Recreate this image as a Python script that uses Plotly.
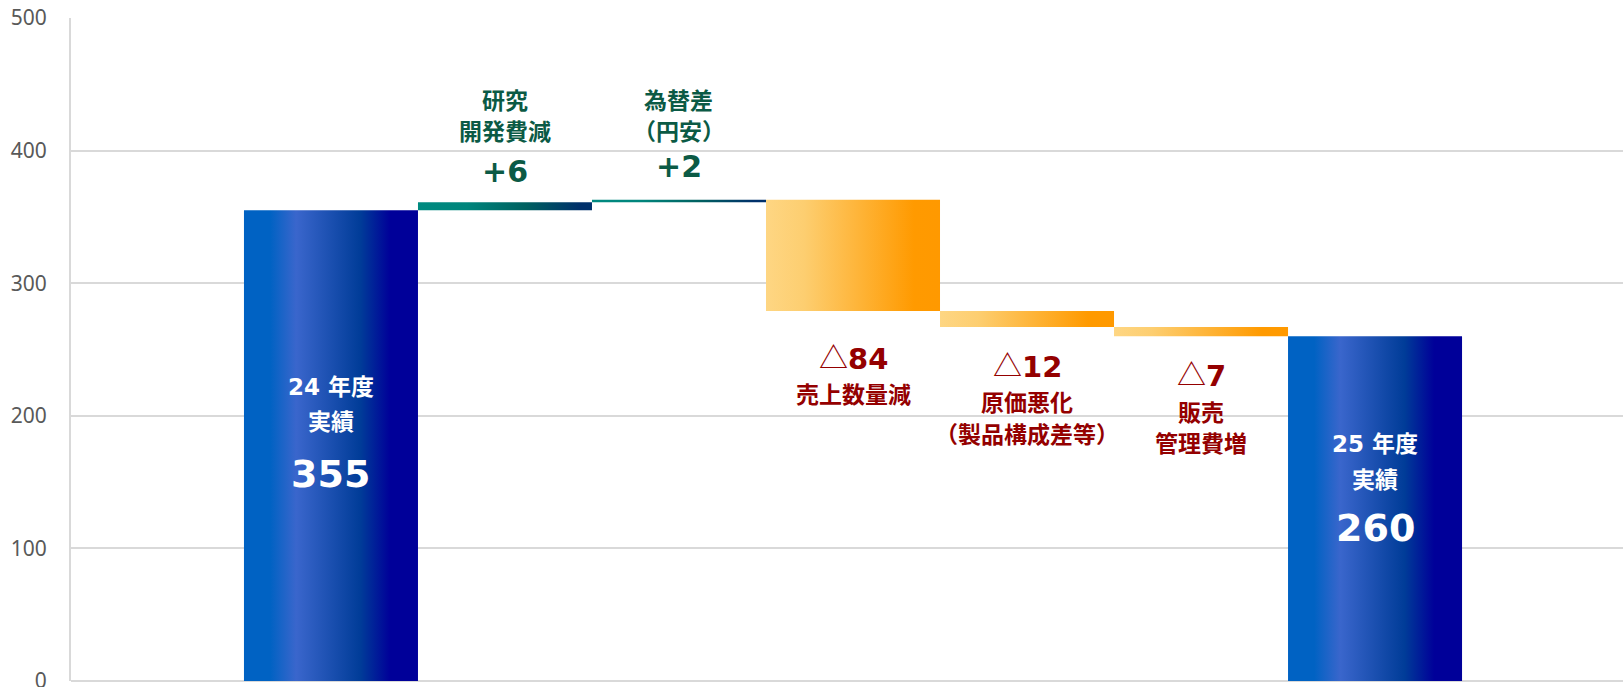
import plotly.graph_objects as go

# ---- data ----
categories = ["24年度実績", "研究開発費減", "為替差（円安）", "売上数量減",
              "原価悪化（製品構成差等）", "販売管理費増", "25年度実績"]
start_value = 355
deltas = [6, 2, -84, -12, -7]
end_value = 260
y_ticks = [0, 100, 200, 300, 400, 500]

total_titles = [["24 年度", "実績"], ["25 年度", "実績"]]
delta_titles = [["研究", "開発費減"], ["為替差", "（円安）"], ["売上数量減"],
                ["原価悪化", "（製品構成差等）"], ["販売", "管理費増"]]

# ---- derived bar extents ----
bases, tops = [0], [start_value]
running = start_value
for d in deltas:
    bases.append(min(running, running + d))
    tops.append(max(running, running + d))
    running += d
bases.append(0)
tops.append(end_value)

BLUE = [[0, '#0062C3'], [0.15, '#0062C3'], [0.30, '#3A66CC'], [0.67, '#003C98'],
        [0.84, '#000099'], [1, '#000099']]
TEAL = [[0, '#008A80'], [0.28, '#00857C'], [0.62, '#006060'], [0.93, '#00306A'], [1, '#00306A']]
ORANGE = [[0, '#FED683'], [0.22, '#FDCE70'], [0.85, '#FF9A00'], [1, '#FF9900']]

GREEN = '#0B5A45'
RED = '#940000'
FONT = "DejaVu Sans, Noto Sans CJK JP"
CJK = "Noto Sans CJK JP"

fig = go.Figure()
W = 1.0
for i, cat in enumerate(categories):
    if i == 0 or i == len(categories) - 1:
        cs = BLUE
    elif deltas[i - 1] > 0:
        cs = TEAL
    else:
        cs = ORANGE
    x0, x1 = i - W / 2, i + W / 2
    fig.add_trace(go.Scatter(
        x=[x0, x1, x1, x0, x0], y=[bases[i], bases[i], tops[i], tops[i], bases[i]],
        mode='none', fill='toself',
        fillgradient=dict(type='horizontal', colorscale=cs),
        fillcolor=cs[0][1], name=cat, hoverinfo='skip', showlegend=False))

ann = []

def add(x, y, text, shift, size, color, family=FONT):
    ann.append(dict(x=x, y=y, xref='x', yref='y', text=text, showarrow=False,
                    yshift=shift, yanchor='middle', xanchor='center',
                    font=dict(family=family, size=size, color=color, weight='bold')))

# totals (white text inside blue bars)
total_values = [start_value, end_value]
total_idx = [0, len(categories) - 1]
total_offsets = [[177, 210, 264], [108, 142, 192]]
for k, i in enumerate(total_idx):
    off = total_offsets[k]
    add(i, tops[i], total_titles[k][0], -off[0], 23, 'white')
    add(i, tops[i], total_titles[k][1], -off[1], 23, 'white', CJK)
    add(i, tops[i], str(total_values[k]), -off[2], 38, 'white')

# deltas
up_offsets = [[31, 72, 103], [33, 70, 101]]
down_offsets = [[45, 82], [37, 74, 106], [37, 75, 106]]
ui = di = 0
for j, d in enumerate(deltas):
    i = j + 1
    if d > 0:
        off = up_offsets[ui]; ui += 1
        add(i, tops[i], f"+{d}", off[0], 30, GREEN)
        t = delta_titles[j]
        add(i, tops[i], t[-1], off[1], 23, GREEN, CJK)
        if len(t) > 1:
            add(i, tops[i], t[0], off[2], 23, GREEN, CJK)
    else:
        off = down_offsets[di]; di += 1
        ann.append(dict(x=i, y=bases[i], xref='x', yref='y',
                        text=(f"<span style='font-family:Noto Sans CJK JP;font-weight:normal'>△</span>"
                              f"{abs(d)}"),
                        showarrow=False, yshift=-off[0], yanchor='middle', xanchor='center',
                        font=dict(family=FONT, size=29, color=RED, weight='bold')))
        for n, line in enumerate(delta_titles[j]):
            add(i, bases[i], line, -off[n + 1], 23, RED, CJK)

fig.update_layout(
    width=1623, height=687,
    margin=dict(l=71, r=0, t=18, b=6),
    paper_bgcolor='white', plot_bgcolor='white',
    annotations=ann,
    xaxis=dict(range=[-1.494, 7.425], showgrid=False, zeroline=False,
               showticklabels=False, showline=False, fixedrange=True),
    yaxis=dict(range=[0, 500], tickvals=y_ticks, showgrid=True, gridcolor='#d9d9d9',
               gridwidth=1.5, zeroline=True, zerolinecolor='#d9d9d9', zerolinewidth=2,
               showline=True, linecolor='#d9d9d9', linewidth=2,
               ticklabelstandoff=18, automargin=False, ticklabeloverflow='allow',
               tickfont=dict(family="Noto Sans", size=21, color='#595959')),
    showlegend=False,
)

fig.write_html("out.html", config={'displayModeBar': False},
               post_script="document.body.style.margin='0';document.body.style.overflow='hidden';")
